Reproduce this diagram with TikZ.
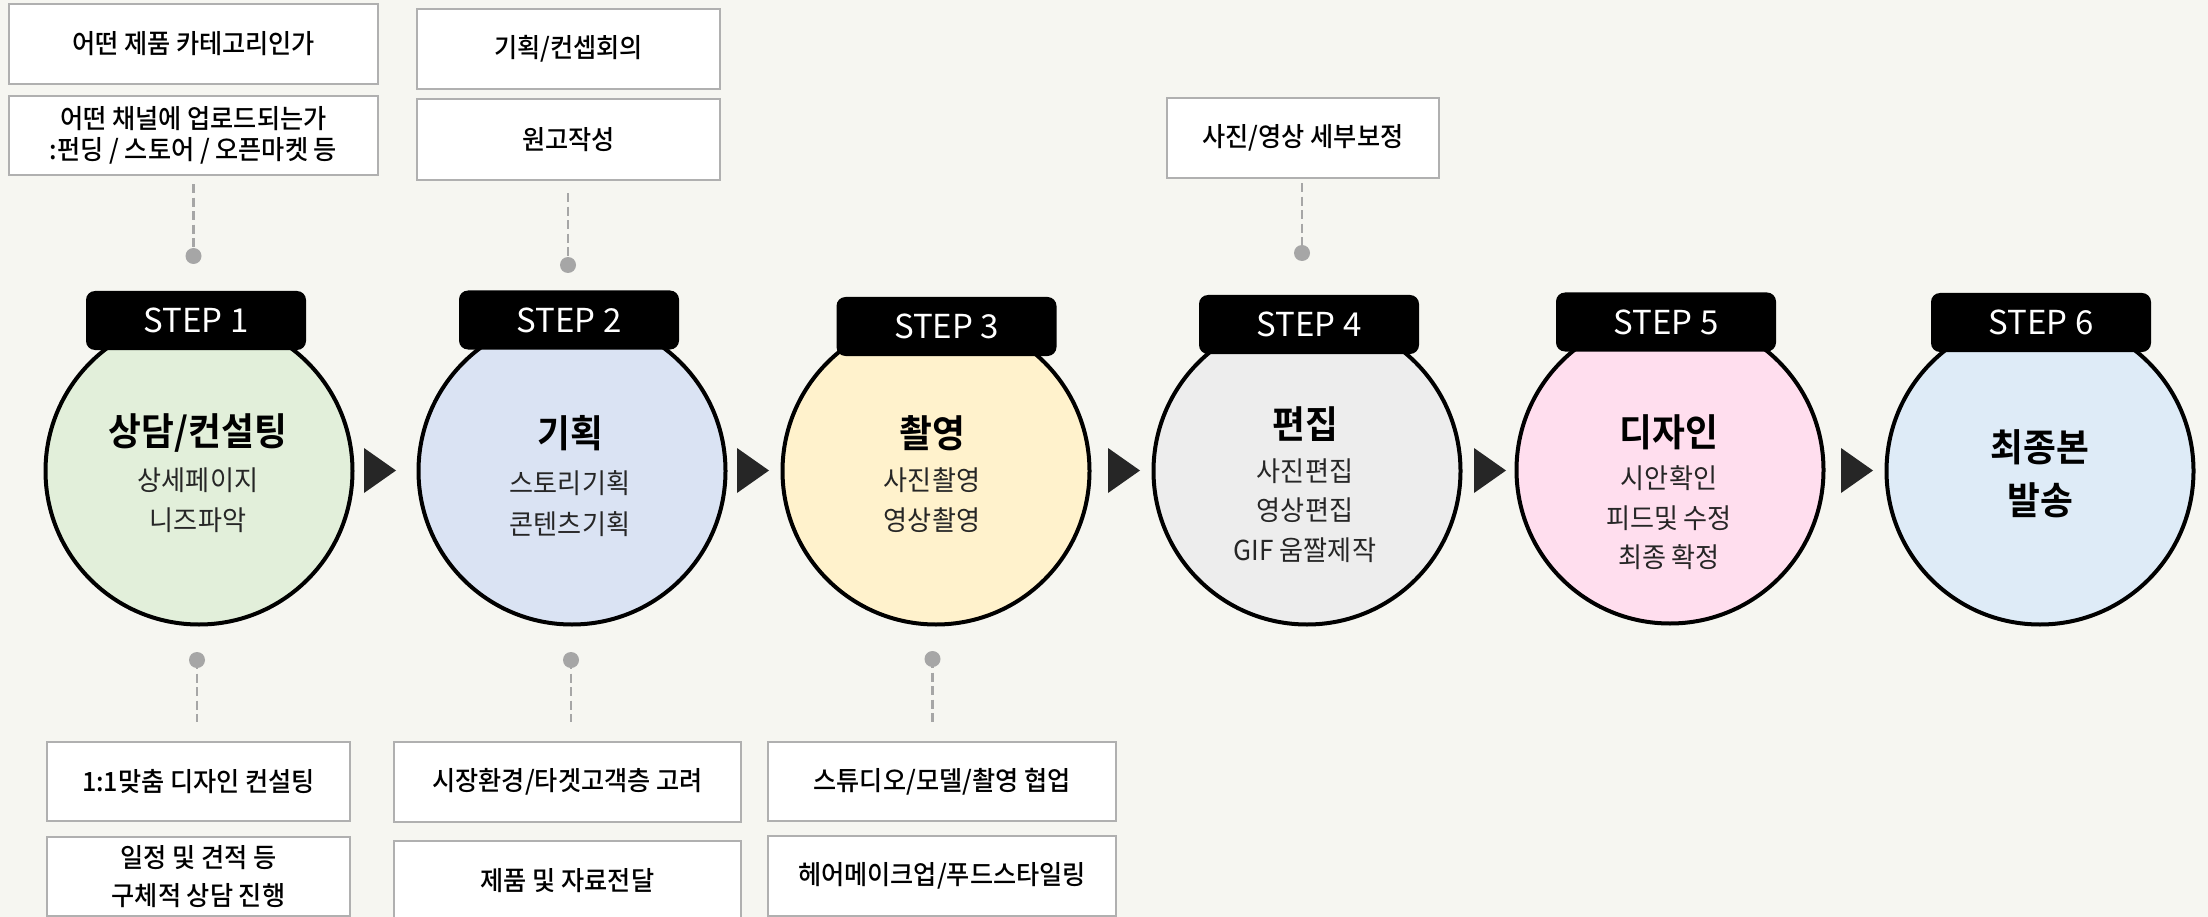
\documentclass[tikz,border=0pt]{standalone}
\usepackage{fontspec}
\newfontfamily\krbox[FakeStretch=0.95]{Noto Sans CJK KR Medium}
\newfontfamily\krsub[FakeStretch=0.95]{Noto Sans CJK KR}
\newfontfamily\krtitle[FakeStretch=0.94]{Noto Sans CJK KR Bold}
\newfontfamily\krplain{Noto Sans CJK KR}
\usetikzlibrary{calc}
\definecolor{bg}{HTML}{F6F6F1}
\definecolor{boxgray}{HTML}{B0B0B0}
\definecolor{dotgray}{HTML}{A6A6A6}
\definecolor{subgray}{HTML}{262626}
\definecolor{trigray}{HTML}{262626}
\definecolor{cgreen}{HTML}{E2EFDA}
\definecolor{cblue}{HTML}{DAE3F3}
\definecolor{cyellow}{HTML}{FFF2CC}
\definecolor{cgrey}{HTML}{EDEDED}
\definecolor{cpink}{HTML}{FFDEEE}
\definecolor{clblue}{HTML}{DEEBF7}
\begin{document}
\begin{tikzpicture}[x=1pt,y=-1pt,
  infobox/.style={draw=boxgray, line width=2.5pt, fill=white, inner sep=0pt, align=center,
    font=\krbox\fontsize{26.5}{31}\selectfont, text=black},
  stepcircle/.style={circle, draw=black, line width=4pt, minimum size=307pt, inner sep=0pt},
  steplabel/.style={fill=black, rounded corners=9pt, minimum width=220pt, minimum height=59pt,
    inner sep=0pt, text=white, font=\krplain\fontsize{33}{40}\selectfont},
  titletext/.style={inner sep=0pt, text height=31pt, text depth=3pt, text=black,
    font=\krtitle\fontsize{38}{44}\selectfont},
  subtext/.style={inner sep=0pt, text height=22.5pt, text depth=2pt, text=subgray,
    font=\krsub\fontsize{27.5}{34}\selectfont},
  pin/.style={circle, fill=dotgray, minimum size=16pt, inner sep=0pt},
  dashline/.style={draw=dotgray, line width=2.5pt, dash pattern=on 9pt off 4.5pt},
  tri/.style={fill=trigray}
]
\fill[bg] (0,0) rectangle (2208,917);
\useasboundingbox (0,0) rectangle (2208,917);

% top boxes
\node[infobox, minimum width=369pt, minimum height=80pt] (A1) at (193.5,44) {어떤 제품 카테고리인가};
\node[infobox, minimum width=369pt, minimum height=79pt] (A2) at (193.5,135.5) {어떤 채널에 업로드되는가\\:펀딩 / 스토어 / 오픈마켓 등};
\node[infobox, minimum width=303pt, minimum height=80pt] (B1) at (568.5,49) {기획/컨셉회의};
\node[infobox, minimum width=303pt, minimum height=81pt] (B2) at (568.5,139.5) {원고작성};
\node[infobox, minimum width=272pt, minimum height=80pt] (C1) at (1303,138) {사진/영상 세부보정};

% bottom boxes
\node[infobox, minimum width=303pt, minimum height=79pt] (D1) at (198.5,781.5) {1:1맞춤 디자인 컨설팅};
\node[infobox, minimum width=303pt, minimum height=79pt, font=\krbox\fontsize{26.5}{38.5}\selectfont] (D2) at (198.5,876.5) {일정 및 견적 등\\구체적 상담 진행};
\node[infobox, minimum width=347pt, minimum height=80pt] (E1) at (567.5,782) {시장환경/타겟고객층 고려};
\node[infobox, minimum width=347pt, minimum height=80pt] (E2) at (567.5,881) {제품 및 자료전달};
\node[infobox, minimum width=348pt, minimum height=79pt] (F1) at (942,781.5) {스튜디오/모델/촬영 협업};
\node[infobox, minimum width=348pt, minimum height=80pt] (F2) at (942,876) {헤어메이크업/푸드스타일링};

% pins
\coordinate (pa) at (193.5,256);
\coordinate (pb) at (568,265);
\coordinate (pc) at (1302,253);
\coordinate (pd) at (197,660);
\coordinate (pe) at (571,660);
\coordinate (pf) at (932.5,659);
\draw[dashline, shorten <=8pt] (A2.south -| pa) -- (pa);
\draw[dashline, shorten <=12pt] (B2.south -| pb) -- (pb);
\draw[dashline, shorten <=4pt] (C1.south -| pc) -- (pc);
\draw[dashline, shorten >=19pt] (pd) -- (D1.north -| pd);
\draw[dashline, shorten >=19pt] (pe) -- (E1.north -| pe);
\draw[dashline, shorten >=19pt] (pf) -- (F1.north -| pf);
\node[pin] (Pa) at (pa) {};
\node[pin] (Pb) at (pb) {};
\node[pin] (Pc) at (pc) {};
\node[pin] (Pd) at (pd) {};
\node[pin] (Pe) at (pe) {};
\node[pin] (Pf) at (pf) {};

% circles
\node[stepcircle, fill=cgreen] (c1) at (199,471) {};
\node[stepcircle, fill=cblue] (c2) at (572,471) {};
\node[stepcircle, fill=cyellow] (c3) at (936,471) {};
\node[stepcircle, fill=cgrey] (c4) at (1307,471) {};
\node[stepcircle, fill=cpink] (c5) at (1670,470) {};
\node[stepcircle, fill=clblue] (c6) at (2040,471) {};

% step labels
\node[steplabel] (s1) at (196,320.5) {STEP 1};
\node[steplabel] (s2) at (569,320) {STEP 2};
\node[steplabel] (s3) at (946.5,326.5) {STEP 3};
\node[steplabel] (s4) at (1309,324.5) {STEP 4};
\node[steplabel] (s5) at (1666,322) {STEP 5};
\node[steplabel] (s6) at (2041,322.5) {STEP 6};

% circle texts
\node[titletext] (t1) at (198,431) {상담/컨설팅};
\node[subtext] (t1a) at (198,480.5) {상세페이지};
\node[subtext] (t1b) at (198,520) {니즈파악};

\node[titletext] (t2) at (570,433.5) {기획};
\node[subtext] (t2a) at (570,483) {스토리기획};
\node[subtext] (t2b) at (570,524) {콘텐츠기획};

\node[titletext] (t3) at (932,433) {촬영};
\node[subtext] (t3a) at (932,480) {사진촬영};
\node[subtext] (t3b) at (932,520) {영상촬영};

\node[titletext] (t4) at (1305,424.5) {편집};
\node[subtext] (t4a) at (1305,471) {사진편집};
\node[subtext] (t4b) at (1305,510.5) {영상편집};
\node[subtext] (t4c) at (1305,550) {GIF 움짤제작};

\node[titletext] (t5) at (1669,432.5) {디자인};
\node[subtext] (t5a) at (1669,478) {시안확인};
\node[subtext] (t5b) at (1669,518) {피드및 수정};
\node[subtext] (t5c) at (1669,557.5) {최종 확정};

\node[titletext] (t6) at (2040,447.5) {최종본};
\node[titletext] (t6a) at (2040,500) {발송};

% arrows between circles
\fill[tri] (364,448) -- (396,470.5) -- (364,493) -- cycle;
\fill[tri] (737,448) -- (769,470.5) -- (737,493) -- cycle;
\fill[tri] (1108,448) -- (1140,470.5) -- (1108,493) -- cycle;
\fill[tri] (1474,448) -- (1506,470.5) -- (1474,493) -- cycle;
\fill[tri] (1841,448) -- (1873,470.5) -- (1841,493) -- cycle;
\end{tikzpicture}
\end{document}
